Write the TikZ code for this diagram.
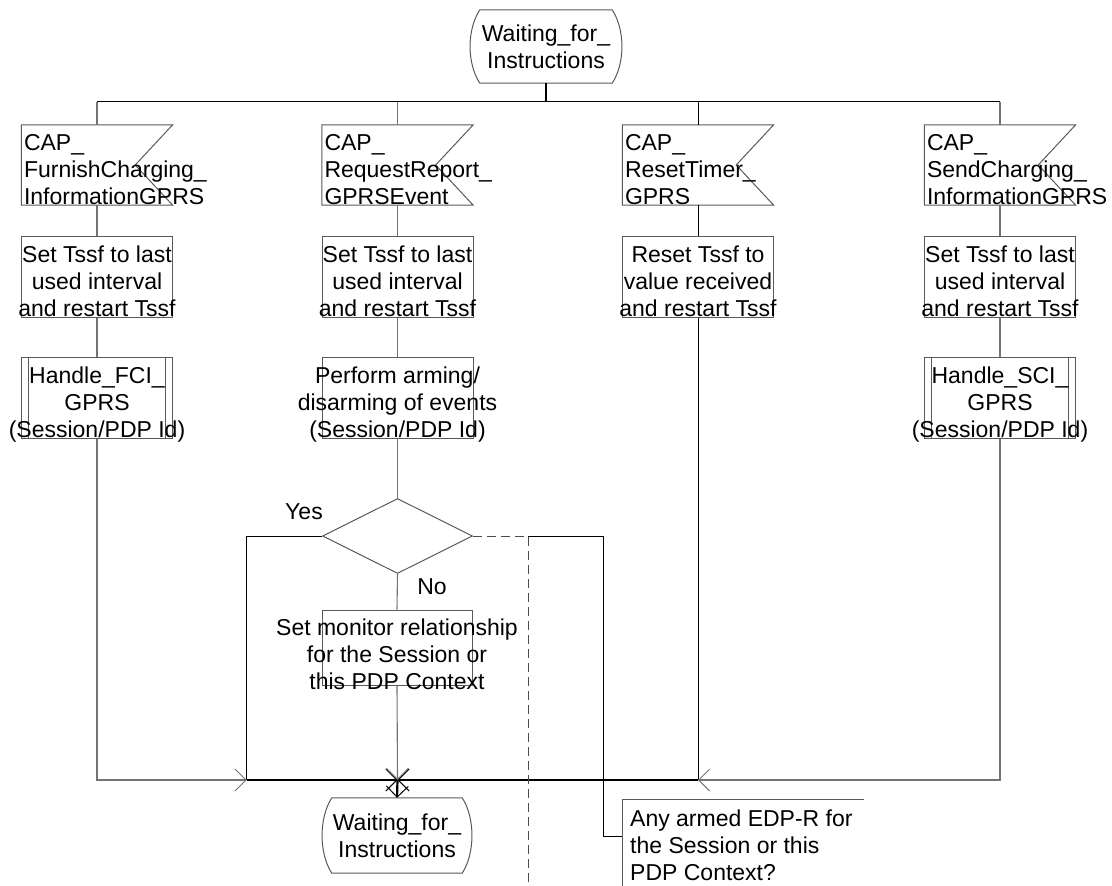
\documentclass[tikz,border=0pt]{standalone}
\usepackage{fontspec}
\setmainfont{Liberation Sans}
\usetikzlibrary{arrows.meta,shapes.geometric,calc}
\begin{document}
\begin{tikzpicture}[x=1pt,y=-1pt,
  lbl/.style={font=\fontsize{23}{27}\selectfont, inner sep=0pt},
  ctext/.style={lbl, align=center, anchor=north},
  ltext/.style={lbl, align=left, anchor=north west},
  boxline/.style={draw=black!65, line width=1pt},
  frame/.style={boxline, inner sep=0pt, minimum width=151pt, minimum height=81pt},
  blank/.style={inner sep=0pt, minimum width=151pt, minimum height=80pt},
  conn/.style={draw=black!55, line width=1.1pt},
  dark/.style={draw=black, line width=1pt},
  heavy/.style={draw=black, line width=2.2pt},
  barb/.style={-{Straight Barb[length=11pt,width=22pt,line width=1pt]}},
  note/.style={draw=black!70, line width=1pt, dash pattern=on 9pt off 5pt},
]
\useasboundingbox (0,0) rectangle (1112,886);

% ---- top state
\node[blank, minimum width=152pt, minimum height=73pt] (s0) at (546,46.5) {};
\draw[boxline] ([xshift=10pt]s0.north west) -- ([xshift=-10pt]s0.north east)
  .. controls ([xshift=3pt,yshift=-20pt]s0.north east) and ([xshift=3pt,yshift=20pt]s0.south east) .. ([xshift=-10pt]s0.south east)
  -- ([xshift=10pt]s0.south west)
  .. controls ([xshift=-3pt,yshift=20pt]s0.south west) and ([xshift=-3pt,yshift=-20pt]s0.north west) .. cycle;
\node[lbl, align=center] (s0t) at (s0) {Waiting\_for\_\\Instructions};

% ---- input signals
\node[blank] (i1) at (97,165) {};
\node[blank] (i2) at (397.5,165) {};
\node[blank] (i3) at (698,165) {};
\node[blank] (i4) at (1000,165) {};
\draw[boxline] (i1.north west) -- (i1.north east) -- ([xshift=-37.5pt]i1.east) -- (i1.south east) -- (i1.south west) -- cycle;
\draw[boxline] (i2.north west) -- (i2.north east) -- ([xshift=-37.5pt]i2.east) -- (i2.south east) -- (i2.south west) -- cycle;
\draw[boxline] (i3.north west) -- (i3.north east) -- ([xshift=-37.5pt]i3.east) -- (i3.south east) -- (i3.south west) -- cycle;
\draw[boxline] (i4.north west) -- (i4.north east) -- ([xshift=-37.5pt]i4.east) -- (i4.south east) -- (i4.south west) -- cycle;
\node[ltext] (i1t) at ([xshift=2.5pt,yshift=-9pt]i1.north west) {CAP\_\\FurnishCharging\_\\InformationGPRS};
\node[ltext] (i2t) at ([xshift=2.5pt,yshift=-9pt]i2.north west) {CAP\_\\RequestReport\_\\GPRSEvent};
\node[ltext] (i3t) at ([xshift=2.5pt,yshift=-9pt]i3.north west) {CAP\_\\ResetTimer\_\\GPRS};
\node[ltext] (i4t) at ([xshift=2.5pt,yshift=-9pt]i4.north west) {CAP\_\\SendCharging\_\\InformationGPRS};

% ---- tasks
\node[frame] (t1) at (97,276.5) {};
\node[frame] (t2) at (397.5,276.5) {};
\node[frame] (t3) at (698,276.5) {};
\node[frame] (t4) at (1000,276.5) {};
\node[ctext] (t1t) at ([yshift=-10pt]t1.north) {Set Tssf to last\\used interval\\and restart Tssf};
\node[ctext] (t2t) at ([yshift=-10pt]t2.north) {Set Tssf to last\\used interval\\and restart Tssf};
\node[ctext] (t3t) at ([yshift=-10pt]t3.north) {Reset Tssf to\\value received\\and restart Tssf};
\node[ctext] (t4t) at ([yshift=-10pt]t4.north) {Set Tssf to last\\used interval\\and restart Tssf};

% ---- procedures and task
\node[frame] (p1) at (97,397.5) {};
\draw[boxline] ([xshift=7.5pt]p1.north west) -- ([xshift=7.5pt]p1.south west)
               ([xshift=-7.5pt]p1.north east) -- ([xshift=-7.5pt]p1.south east);
\node[ctext] (p1t) at ([yshift=-10pt]p1.north) {Handle\_FCI\_\\GPRS\\(Session/PDP Id)};
\node[frame] (a2) at (397.5,397.5) {};
\node[ctext] (a2t) at ([yshift=-10pt]a2.north) {Perform arming/\\disarming of events\\(Session/PDP Id)};
\node[frame] (p4) at (1000,397.5) {};
\draw[boxline] ([xshift=7.5pt]p4.north west) -- ([xshift=7.5pt]p4.south west)
               ([xshift=-7.5pt]p4.north east) -- ([xshift=-7.5pt]p4.south east);
\node[ctext] (p4t) at ([yshift=-10pt]p4.north) {Handle\_SCI\_\\GPRS\\(Session/PDP Id)};

% ---- decision
\node[boxline, diamond, minimum width=150pt, minimum height=75pt, inner sep=0pt] (d) at (397.5,536) {};
\node[lbl, anchor=base] (yes) at (304,519) {Yes};
\node[lbl, anchor=base] (no) at (432,594.5) {No};

% ---- monitor task
\node[frame, minimum width=150pt, minimum height=75pt] (m) at (397,647.5) {};
\node[ctext] (mt) at ([yshift=-9.5pt]m.north) {Set monitor relationship\\for the Session or\\this PDP Context};

% ---- bottom state
\node[blank, minimum width=150pt, minimum height=75pt] (s1) at (397,835.5) {};
\draw[boxline] ([xshift=10pt]s1.north west) -- ([xshift=-10pt]s1.north east)
  .. controls ([xshift=3pt,yshift=-20pt]s1.north east) and ([xshift=3pt,yshift=20pt]s1.south east) .. ([xshift=-10pt]s1.south east)
  -- ([xshift=10pt]s1.south west)
  .. controls ([xshift=-3pt,yshift=20pt]s1.south west) and ([xshift=-3pt,yshift=-20pt]s1.north west) .. cycle;
\node[lbl, align=center] (s1t) at (s1) {Waiting\_for\_\\Instructions};

% ---- comment
\node[inner sep=0pt, minimum width=242pt, minimum height=87pt, anchor=north west] (cm) at (622,799) {};
\draw[boxline] (cm.north east) -- (cm.north west) -- (cm.south west);
\node[ltext] (cmt) at ([xshift=8pt,yshift=-10.5pt]cm.north west) {Any armed EDP-R for\\the Session or this\\PDP Context?};

% ---- coordinates
\coordinate (bar) at (546,101.5);
\coordinate (bl) at (97,101.5);
\coordinate (br) at (1000,101.5);
\coordinate (j) at (397.5,780);
\coordinate (c1) at (97,780);
\coordinate (y1) at (246.7,780);
\coordinate (yt) at (246.7,536);
\coordinate (c3) at (698,780);
\coordinate (c4) at (1000,780);
\coordinate (e1) at (528,536);
\coordinate (e2) at (528,886);
\coordinate (f1) at (603,536);
\coordinate (f2) at (603,836);

% ---- connectors
\draw[heavy] (s0.south) -- (bar);
\draw[dark] (bl) -- (br);
\draw[conn] (bl) -- (i1.north);
\draw[conn] (i2.north |- bl) -- (i2.north);
\draw[dark] (i3.north |- bl) -- (i3.north);
\draw[conn] (br) -- (i4.north);
\draw[conn] (i1.south) -- (t1.north);
\draw[conn] (i2.south) -- (t2.north);
\draw[dark] (i3.south) -- (t3.north);
\draw[conn] (i4.south) -- (t4.north);
\draw[conn] (t1.south) -- (p1.north);
\draw[conn] (t2.south) -- (a2.north);
\draw[conn] (t4.south) -- (p4.north);
\draw[conn] (a2.south) -- (d.north);
\draw[conn] (d.south) -- (m.north);
\draw[conn, barb] (p1.south) -- (c1) -- (y1);
\draw[dark] (d.west) -- (yt) -- (y1);
\draw[heavy, barb] (y1) -- (j);
\draw[conn, barb] (m.south) -- (j);
\draw[dark] (t3.south) -- (c3);
\draw[heavy, barb] (c3) -- (j);
\draw[conn, barb] (p4.south) -- (c4) -- (c3);
\draw[heavy, barb] (j) -- (s1.north);
\draw[note] (d.east) -- (e1) -- (e2);
\draw[dark] (e1) -- (f1) -- (f2) -- (f2 -| cm.west);
\end{tikzpicture}
\end{document}
